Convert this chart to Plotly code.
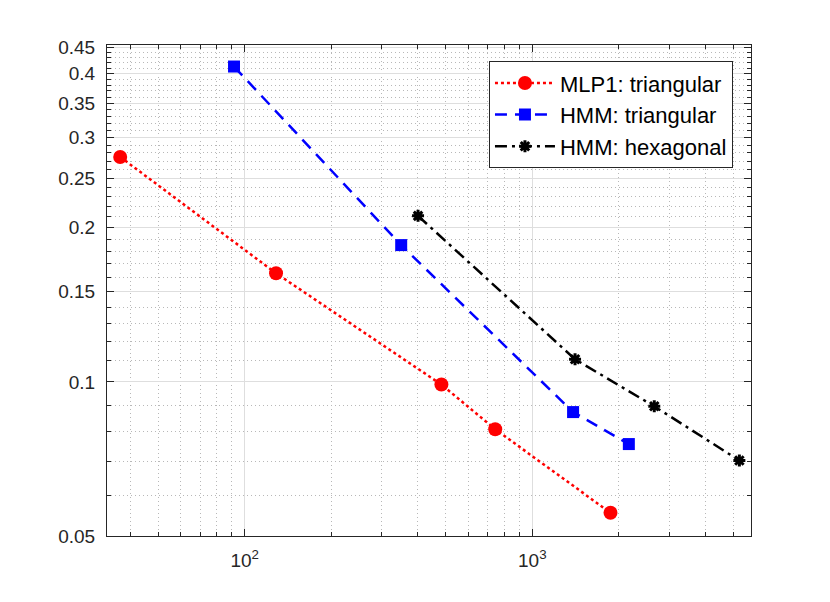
import numpy as np
import plotly.graph_objects as go

# Data
mlp1_x = [36.9, 128.5, 483, 743, 1870]
mlp1_y = [0.275, 0.163, 0.0988, 0.0808, 0.0555]

hmm_tri_x = [91.8, 350, 1386, 2166]
hmm_tri_y = [0.413, 0.185, 0.0873, 0.0756]

hmm_hex_x = [400.6, 1408, 2655, 5248]
hmm_hex_y = [0.211, 0.1107, 0.0896, 0.0702]

x_tick_vals = [100, 1000]
x_tick_text = ["10<sup>2</sup>", "10<sup>3</sup>"]
x_minor_vals = [40, 50, 60, 70, 80, 90, 200, 300, 400, 500, 600, 700, 800, 900,
                2000, 3000, 4000, 5000]
y_tick_vals = [0.05, 0.1, 0.15, 0.2, 0.25, 0.3, 0.35, 0.4, 0.45]
y_tick_text = ["0.05", "0.1", "0.15", "0.2", "0.25", "0.3", "0.35", "0.4", "0.45"]
y_minor_vals = [0.06, 0.07, 0.08, 0.09, 0.11, 0.12, 0.13, 0.14, 0.16, 0.17, 0.18,
                0.19, 0.21, 0.22, 0.23, 0.24, 0.26, 0.27, 0.28, 0.29, 0.31, 0.32,
                0.33, 0.34, 0.36, 0.37, 0.38, 0.39, 0.41, 0.42, 0.43, 0.44]

AX = "#262626"
FONT = "Liberation Sans, Arial, Helvetica, sans-serif"

fig = go.Figure()
fig.add_trace(go.Scatter(
    x=mlp1_x, y=mlp1_y, mode="lines+markers", name="MLP1: triangular",
    line=dict(color="#ff0000", width=2.5, dash="dot"),
    marker=dict(symbol="circle", size=14, color="#ff0000"),
))
fig.add_trace(go.Scatter(
    x=hmm_tri_x, y=hmm_tri_y, mode="lines+markers", name="HMM: triangular",
    line=dict(color="#0000ff", width=2.5, dash="12px,8px"),
    marker=dict(symbol="square", size=12, color="#0000ff"),
))
fig.add_trace(go.Scatter(
    x=hmm_hex_x, y=hmm_hex_y, mode="lines+markers", name="HMM: hexagonal",
    line=dict(color="#000000", width=2.5, dash="12px,5px,3px,5px"),
    marker=dict(symbol="asterisk-open", size=10, color="#000000",
                line=dict(color="#000000", width=3)),
))

common = dict(
    showline=True, linecolor=AX, linewidth=1, mirror="ticks",
    ticks="inside", ticklen=7, tickcolor=AX, tickwidth=1,
    showgrid=True, gridcolor="#dedede", gridwidth=1, zeroline=False,
    tickfont=dict(family=FONT, size=19, color=AX),
)
minor_common = dict(tickmode="array", ticks="inside", ticklen=4, tickcolor=AX,
                    showgrid=True, gridcolor="#b8b8b8", griddash="1px,3px",
                    gridwidth=1)
fig.update_xaxes(
    type="log", range=[np.log10(33.2), np.log10(5760)],
    tickmode="array", tickvals=x_tick_vals, ticktext=x_tick_text,
    minor=dict(tickvals=x_minor_vals, **minor_common),
    ticklabelstandoff=7,
    **common,
)
fig.update_yaxes(
    type="log", range=[np.log10(0.05), np.log10(0.455)],
    tickmode="array", tickvals=y_tick_vals, ticktext=y_tick_text,
    minor=dict(tickvals=y_minor_vals, **minor_common),
    ticklabelstandoff=7,
    **common,
)
fig.update_layout(
    width=830, height=602,
    margin=dict(l=99, r=87, t=37, b=74),
    paper_bgcolor="white", plot_bgcolor="white",
    font=dict(family=FONT, size=18, color="#000000"),
    legend=dict(
        x=0.972, y=0.967, xanchor="right", yanchor="top",
        bgcolor="white", bordercolor=AX, borderwidth=1,
        font=dict(family=FONT, size=22, color="#000000"),
        itemwidth=60,
    ),
    showlegend=True,
)
fig.write_html("out.html")
